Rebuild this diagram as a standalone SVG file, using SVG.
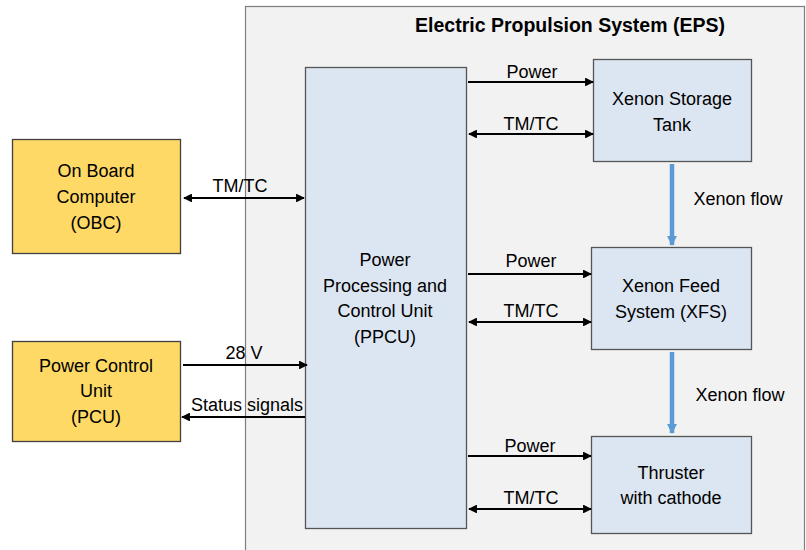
<svg xmlns="http://www.w3.org/2000/svg" width="806" height="550" viewBox="0 0 806 550">
<style>
text{font-family:"Liberation Sans",Arial,sans-serif;font-size:18px;fill:#000;text-anchor:middle}
.title{font-weight:bold;font-size:19.5px}
.yel{fill:#fed966;stroke:#404040;stroke-width:1.3}
.blu{fill:#dce6f2;stroke:#555;stroke-width:1.3}
.ln{stroke:#000;stroke-width:2.2;fill:none}
.flow{stroke:#5b9bd5;stroke-width:4.5;fill:none}
</style>
<defs>
<marker id="ah" viewBox="0 0 10 10" refX="9" refY="5" markerWidth="4" markerHeight="4" orient="auto-start-reverse"><path d="M0,0 L10,5 L0,10 z" fill="#000"/></marker>
<marker id="bh" viewBox="0 0 10 10" refX="9" refY="5" markerWidth="2.4" markerHeight="2.2" orient="auto"><path d="M0,0 L10,5 L0,10 z" fill="#5b9bd5"/></marker>
</defs>
<rect width="806" height="550" fill="#fff"/>
<g id="eps">
<rect x="245.5" y="6.5" width="559" height="550" fill="#f2f2f2" stroke="#7f7f7f" stroke-width="1.2"/>
<text class="title" x="570" y="32">Electric Propulsion System (EPS)</text>
</g>
<g id="obc">
<rect class="yel" x="12.5" y="139.5" width="168" height="114"/>
<text x="96" y="177">On Board</text>
<text x="96" y="203">Computer</text>
<text x="96" y="229">(OBC)</text>
</g>
<g id="pcu">
<rect class="yel" x="12.5" y="341.5" width="168" height="100"/>
<text x="96" y="372">Power Control</text>
<text x="96" y="397">Unit</text>
<text x="96" y="423">(PCU)</text>
</g>
<g id="ppcu">
<rect class="blu" x="305.5" y="67.5" width="161" height="461"/>
<text x="385" y="266">Power</text>
<text x="385" y="292">Processing and</text>
<text x="385" y="317">Control Unit</text>
<text x="385" y="343">(PPCU)</text>
</g>
<g id="tank">
<rect class="blu" x="593.5" y="59.5" width="158" height="102"/>
<text x="672" y="105">Xenon Storage</text>
<text x="672" y="131">Tank</text>
</g>
<g id="xfs">
<rect class="blu" x="591.5" y="247.5" width="160" height="102"/>
<text x="671" y="292">Xenon Feed</text>
<text x="671" y="318">System (XFS)</text>
</g>
<g id="thruster">
<rect class="blu" x="591.5" y="436.5" width="160" height="97"/>
<text x="671" y="479">Thruster</text>
<text x="671" y="504">with cathode</text>
</g>
<g id="connectors">
<line class="ln" x1="184" y1="198" x2="304" y2="198" stroke-width="3" marker-start="url(#ah)" marker-end="url(#ah)"/>
<line class="ln" x1="183" y1="365" x2="307" y2="365" marker-end="url(#ah)"/>
<line class="ln" x1="305" y1="417" x2="182" y2="417" marker-end="url(#ah)"/>
<line class="ln" x1="468" y1="82" x2="593" y2="82" marker-end="url(#ah)"/>
<line class="ln" x1="469" y1="134" x2="593" y2="134" marker-start="url(#ah)" marker-end="url(#ah)"/>
<line class="ln" x1="468" y1="274" x2="591" y2="274" marker-end="url(#ah)"/>
<line class="ln" x1="469" y1="322" x2="591" y2="322" marker-start="url(#ah)" marker-end="url(#ah)"/>
<line class="ln" x1="468" y1="456" x2="591" y2="456" marker-end="url(#ah)"/>
<line class="ln" x1="469" y1="509" x2="591" y2="509" marker-start="url(#ah)" marker-end="url(#ah)"/>
<line class="flow" x1="672" y1="164" x2="672" y2="245" marker-end="url(#bh)"/>
<line class="flow" x1="672" y1="352" x2="672" y2="433" marker-end="url(#bh)"/>
<text x="240" y="192">TM/TC</text>
<text x="244" y="359">28 V</text>
<text x="247" y="411">Status signals</text>
<text x="532" y="78">Power</text>
<text x="531" y="130">TM/TC</text>
<text x="531" y="267">Power</text>
<text x="531" y="317">TM/TC</text>
<text x="530" y="452">Power</text>
<text x="531" y="504">TM/TC</text>
<text x="738" y="205">Xenon flow</text>
<text x="740" y="401">Xenon flow</text>
</g>
</svg>
